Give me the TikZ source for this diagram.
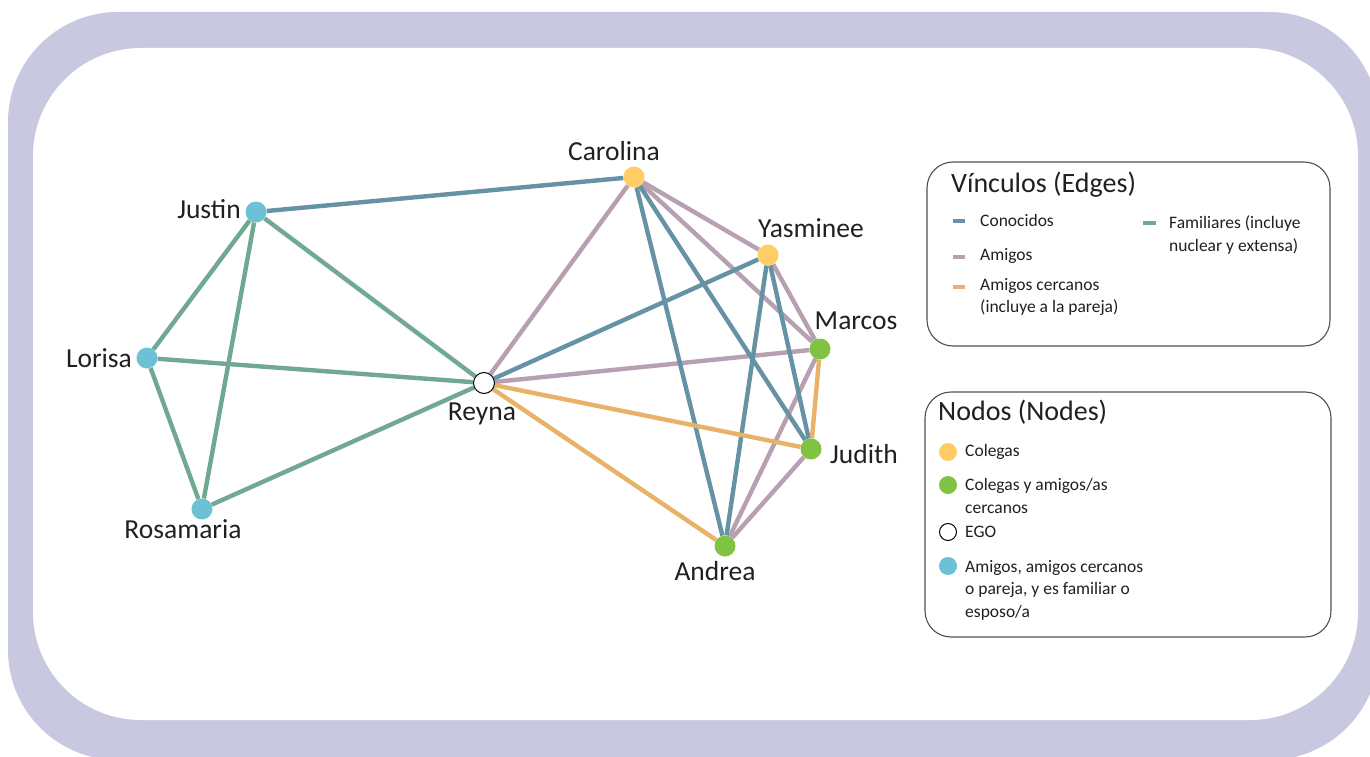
\documentclass[tikz,border=0pt]{standalone}
\usepackage{fontspec}
\setmainfont{Carlito}
\usetikzlibrary{backgrounds}
\definecolor{framecol}{RGB}{200,200,225}
\definecolor{conoc}{RGB}{102,146,166}
\definecolor{amig}{RGB}{182,160,178}
\definecolor{cerc}{RGB}{232,178,104}
\definecolor{fam}{RGB}{112,168,145}
\definecolor{nyel}{RGB}{255,204,102}
\definecolor{ngrn}{RGB}{128,195,66}
\definecolor{nblu}{RGB}{108,193,213}
\definecolor{txt}{RGB}{35,31,32}
\definecolor{boxline}{RGB}{80,80,80}
\begin{document}
\begin{tikzpicture}[x=1pt,y=-1pt,
  nd/.style={circle,minimum size=21pt,inner sep=0pt},
  lbl/.style={font=\fontsize{27.5}{31}\selectfont,text=txt,inner sep=0pt},
  ttl/.style={font=\fontsize{28}{32}\selectfont,text=txt,inner sep=0pt,anchor=west},
  itm/.style={font=\fontsize{17.5}{22.5}\selectfont,text=txt,inner sep=0pt,anchor=west,align=left},
  legbox/.style={draw=boxline,line width=1.1pt,rounded corners=26pt,inner sep=0pt},
  lgc/.style={circle,minimum size=18pt,inner sep=0pt},
  edge/.style={line width=4.4pt},
  dsh/.style={line width=4pt}
]
\useasboundingbox (0,0) rectangle (1370,757);

% graph nodes
\node[nd,fill=nyel] (car) at (634,177) {};
\node[nd,fill=nyel] (yas) at (768,255) {};
\node[nd,fill=ngrn] (mar) at (820,349) {};
\node[nd,fill=ngrn] (jud) at (811,449) {};
\node[nd,fill=ngrn] (and) at (725,546) {};
\node[nd,fill=white,draw=black,line width=1pt] (rey) at (484,383) {};
\node[nd,fill=nblu] (jus) at (256,212) {};
\node[nd,fill=nblu] (lor) at (147,358) {};
\node[nd,fill=nblu] (ros) at (202,509) {};

% labels
\node[lbl] (lcar) at (614,151) {Carolina};
\node[lbl] (lyas) at (811,228) {Yasminee};
\node[lbl] (lmar) at (856,321) {Marcos};
\node[lbl] (ljud) at (864,454) {Judith};
\node[lbl] (lrey) at (482,414) {Reyna};
\node[lbl] (lands) at (715,571) {Andrea};
\node[lbl] (ljus) at (209,209) {Justin};
\node[lbl] (llor) at (99,358) {Lorisa};
\node[lbl] (lros) at (183,529) {Rosamaria};

\begin{pgfonlayer}{background}
  \begin{scope}
    \clip (0,0) rectangle (1370,757);
    \fill[framecol,rounded corners=110pt] (8,12) rectangle (1379,760);
    \fill[white,rounded corners=108pt] (33,48) rectangle (1358,720);
  \end{scope}
  % familiares
  \draw[edge,fam] (jus) -- (lor);
  \draw[edge,fam] (jus) -- (ros);
  \draw[edge,fam] (jus) -- (rey);
  \draw[edge,fam] (lor) -- (rey);
  \draw[edge,fam] (lor) -- (ros);
  \draw[edge,fam] (ros) -- (rey);
  % amigos
  \draw[edge,amig] (rey) -- (car);
  \draw[edge,amig] (rey) -- (mar);
  \draw[edge,amig] (car) -- (yas);
  \draw[edge,amig] (car) -- (mar);
  \draw[edge,amig] (yas) -- (mar);
  \draw[edge,amig] (mar) -- (and);
  \draw[edge,amig] (jud) -- (and);
  % conocidos
  \draw[edge,conoc] (jus) -- (car);
  \draw[edge,conoc] (rey) -- (yas);
  \draw[edge,conoc] (car) -- (and);
  \draw[edge,conoc] (car) -- (jud);
  \draw[edge,conoc] (yas) -- (and);
  \draw[edge,conoc] (yas) -- (jud);
  % amigos cercanos
  \draw[edge,cerc] (rey) -- (jud);
  \draw[edge,cerc] (rey) -- (and);
  \draw[edge,cerc] (mar) -- (jud);
\end{pgfonlayer}

% legend 1
\node[legbox,minimum width=403pt,minimum height=184pt] (leg1) at (1128.5,254) {};
\node[ttl] (t1) at (951,185) {Vínculos (Edges)};
\coordinate (d1a) at (953,221); \coordinate (d1b) at (965,221);
\draw[dsh,conoc] (d1a) -- (d1b);
\node[itm] (i1) at (980,220) {Conocidos};
\coordinate (d2a) at (953,257); \coordinate (d2b) at (965,257);
\draw[dsh,amig] (d2a) -- (d2b);
\node[itm] (i2) at (980,256) {Amigos};
\coordinate (d3a) at (953,287); \coordinate (d3b) at (965,287);
\draw[dsh,cerc] (d3a) -- (d3b);
\node[itm] (i3) at (980,297) {Amigos cercanos\\(incluye a la pareja)};
\coordinate (d4a) at (1143,223); \coordinate (d4b) at (1156,223);
\draw[dsh,fam] (d4a) -- (d4b);
\node[itm] (i4) at (1169,235) {Familiares (incluye\\nuclear y extensa)};

% legend 2
\node[legbox,minimum width=406pt,minimum height=245pt] (leg2) at (1128,514.5) {};
\node[ttl] (t2) at (938,412) {Nodos (Nodes)};
\node[lgc,fill=nyel] (c1) at (948,452) {};
\node[itm] (j1) at (965,452) {Colegas};
\node[lgc,fill=ngrn] (c2) at (948,485) {};
\node[itm] (j2) at (965,496) {Colegas y amigos/as\\cercanos};
\node[lgc,fill=white,draw=black,line width=1pt,minimum size=17pt] (c3) at (948,532) {};
\node[itm] (j3) at (965,532) {EGO};
\node[lgc,fill=nblu] (c4) at (948,566) {};
\node[itm] (j4) at (965,590) {Amigos, amigos cercanos\\o pareja, y es familiar o\\esposo/a};
\end{tikzpicture}
\end{document}
